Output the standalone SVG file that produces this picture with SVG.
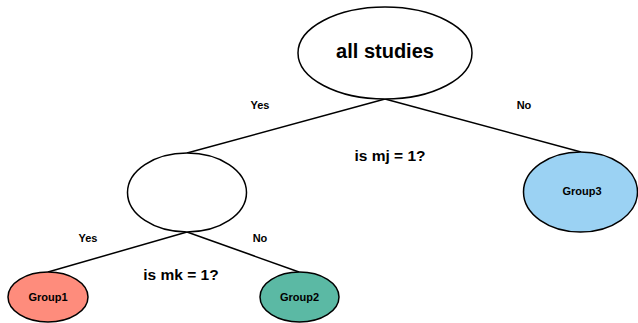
<svg xmlns="http://www.w3.org/2000/svg" width="638" height="323" viewBox="0 0 638 323">
<style>
.n{stroke:#000;stroke-width:1.5}
.t{font-family:"Liberation Sans",Arial,sans-serif;font-weight:bold;fill:#000;text-anchor:middle;dominant-baseline:central}
.s{font-size:11px}
.m{font-size:15.5px}
.l{font-size:20px}
.c{stroke:#000;stroke-width:1.5;fill:none}
</style>
<rect width="638" height="323" fill="#fff"/>
<g id="connectors">
<line class="c" x1="385" y1="99" x2="187" y2="153"/>
<line class="c" x1="385" y1="99" x2="581" y2="152"/>
<line class="c" x1="187" y1="232" x2="48" y2="272"/>
<line class="c" x1="187" y1="232" x2="299" y2="272"/>
</g>
<g id="root">
<ellipse class="n" cx="385" cy="53" rx="87" ry="46" fill="#fff"/>
<text class="t l" x="385" y="51">all studies</text>
</g>
<g id="mid">
<ellipse class="n" cx="187" cy="192.5" rx="59.5" ry="39.5" fill="#fff"/>
</g>
<g id="group1">
<ellipse class="n" cx="48" cy="297" rx="40" ry="25" fill="#fe8c7c"/>
<text class="t s" x="48" y="297">Group1</text>
</g>
<g id="group2">
<ellipse class="n" cx="299.5" cy="297" rx="39.5" ry="25" fill="#5bb9a4"/>
<text class="t s" x="299.5" y="297">Group2</text>
</g>
<g id="group3">
<ellipse class="n" cx="580.5" cy="192" rx="57" ry="40" fill="#9bd2f3"/>
<text class="t s" x="582" y="191">Group3</text>
</g>
<g id="labels">
<text class="t s" x="260" y="105">Yes</text>
<text class="t s" x="524" y="105">No</text>
<text class="t m" x="390" y="155">is mj = 1?</text>
<text class="t s" x="88" y="238">Yes</text>
<text class="t s" x="260" y="238">No</text>
<text class="t m" x="181" y="274">is mk = 1?</text>
</g>
</svg>
